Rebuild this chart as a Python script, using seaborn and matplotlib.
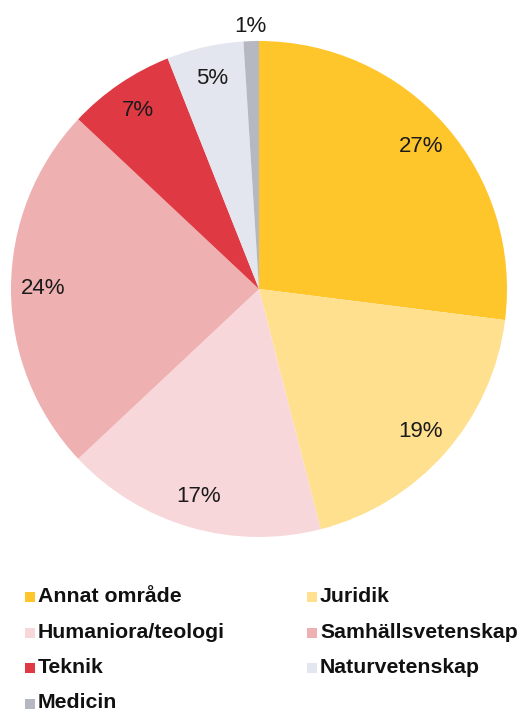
import matplotlib
matplotlib.use("Agg")
import matplotlib.pyplot as plt
import seaborn as sns
import numpy as np
from matplotlib.patches import Rectangle

labels = ["Annat område", "Juridik", "Humaniora/teologi", "Samhällsvetenskap",
          "Teknik", "Naturvetenskap", "Medicin"]
values = [27, 19, 17, 24, 7, 5, 1]
colors = ["#FFC62B", "#FFE08F", "#F8D7DA", "#EFB0B2", "#DF3A43", "#E4E6EF", "#B5B8C0"]

sns.set_theme(style="white")
plt.rcParams["font.family"] = ["Liberation Sans", "DejaVu Sans"]

fig = plt.figure(figsize=(5.31, 7.11), dpi=100)
W, H = 531, 711
ax = fig.add_axes([11 / W, 1 - 537 / H, 496 / W, 496 / H])

wedges, texts = ax.pie(values, colors=colors, startangle=90, counterclock=False,
                       wedgeprops=dict(linewidth=0))
ax.set_xlim(-1, 1)
ax.set_ylim(-1, 1)
ax.set_aspect("equal")
ax.axis("off")

# percent labels
for w, v in zip(wedges, values):
    ang = np.deg2rad((w.theta1 + w.theta2) / 2)
    r = 0.87 if v > 2 else 1.06
    ax.text(r * np.cos(ang), r * np.sin(ang), f"{v}%", ha="center", va="center",
            fontsize=16, color="#1a1a1a", clip_on=False)

# legend, two columns filled row by row
col_x = [25, 307]
row_y0, row_dy = 602, 35.5
for i, (lab, c) in enumerate(zip(labels, colors)):
    col, row = i % 2, i // 2
    x = col_x[col]
    base = row_y0 + row * row_dy
    fig.add_artist(Rectangle((x / W, 1 - base / H), 10 / W, 10 / H,
                             transform=fig.transFigure, color=c, lw=0))
    fig.text((x + 13) / W, 1 - base / H, lab, ha="left", va="baseline",
             fontsize=15.3, fontweight="bold", color="#111111")

fig.savefig("out.png", dpi=100)
